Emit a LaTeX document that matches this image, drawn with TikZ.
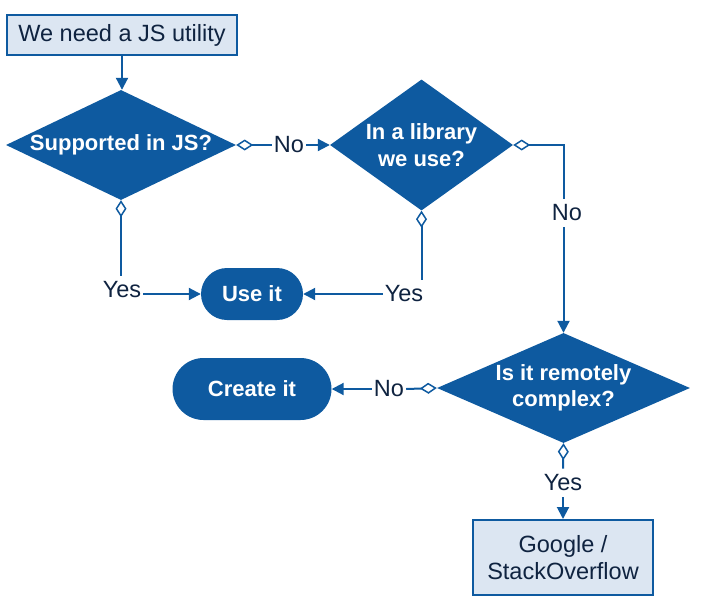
\documentclass[tikz,border=0pt]{standalone}
\usepackage{fontspec}
\setmainfont{Liberation Sans}
\usetikzlibrary{shapes.geometric,arrows.meta}
\definecolor{blau}{HTML}{0E5AA0}
\definecolor{hell}{HTML}{DCE6F2}
\definecolor{schrift}{HTML}{0F2340}
\tikzset{
  kasten/.style={draw=blau, line width=2pt, fill=hell, text=schrift, inner sep=0pt, align=center},
  raute/.style={diamond, fill=blau, text=white, font=\fontsize{22}{26.5}\selectfont\bfseries, inner sep=-8pt, align=center},
  ende/.style={rectangle, rounded corners=#1, fill=blau, text=white, font=\fontsize{22}{26.5}\selectfont\bfseries, inner sep=0pt},
  marke/.style={text=schrift, inner xsep=2pt, inner ysep=6pt},
  linie/.style={draw=blau, line width=2pt},
  pfeil/.style={linie, -{Triangle[length=12pt,width=12pt]}},
  zweig/.style={linie, {Diamond[open,length=17pt,width=11pt,line width=1.5pt,fill=white]}-}
}
\begin{document}
\begin{tikzpicture}[x=1pt, y=-1pt, font=\fontsize{23.5}{27}\selectfont]
  \useasboundingbox (0,0) rectangle (708,615);
  % Start
  \node[kasten, minimum width=230pt, minimum height=40pt] (start) at (122,35) {We need a JS utility};
  % Fragen
  \node[raute, aspect=2.1, minimum width=230pt, minimum height=110pt] (js) at (121,145) {Supported in JS?};
  \node[raute, aspect=1.4, minimum width=183pt, minimum height=131pt] (lib) at (421.5,145) {In a library\\we use?};
  \node[raute, aspect=2.3, minimum width=253pt, minimum height=110pt] (komplex) at (563.5,388) {Is it remotely\\complex?};
  % Ergebnisse
  \node[ende=26pt, minimum width=102pt, minimum height=52pt] (use) at (252,294) {Use it};
  \node[ende=31pt, minimum width=159pt, minimum height=62pt] (create) at (252,389) {Create it};
  \node[kasten, minimum width=180pt, minimum height=75pt] (google) at (563,557.5) {Google /\\StackOverflow};
  % Beschriftungen
  \node[marke] (no1) at (289,145) {No};
  \node[marke] (yes1) at (122,290) {Yes};
  \node[marke] (yes2) at (404,294) {Yes};
  \node[marke] (no2) at (567,213) {No};
  \node[marke] (no3) at (389,389) {No};
  \node[marke] (yes3) at (563,483) {Yes};
  % Verbindungen
  \draw[pfeil] (start.south) -- (start.south |- js.north);
  \draw[zweig] (js.east) -- (no1.west);
  \draw[pfeil] (no1.east) -- (lib.west);
  \draw[zweig] (js.south) -- (js.south |- yes1.north);
  \draw[pfeil] (yes1.east |- use.west) -- (use.west);
  \draw[zweig] (lib.south) -- (lib.south |- yes2.north);
  \draw[pfeil] (yes2.west |- use.east) -- (use.east);
  \draw[zweig] (lib.east) -| (komplex.north |- no2.north);
  \draw[pfeil] (komplex.north |- no2.south) -- (komplex.north);
  \draw[zweig] (komplex.west) -- (no3.east);
  \draw[pfeil] (no3.west) -- (create.east);
  \draw[zweig] (komplex.south) -- (yes3.north);
  \draw[pfeil] (yes3.south) -- (google.north);
\end{tikzpicture}
\end{document}
